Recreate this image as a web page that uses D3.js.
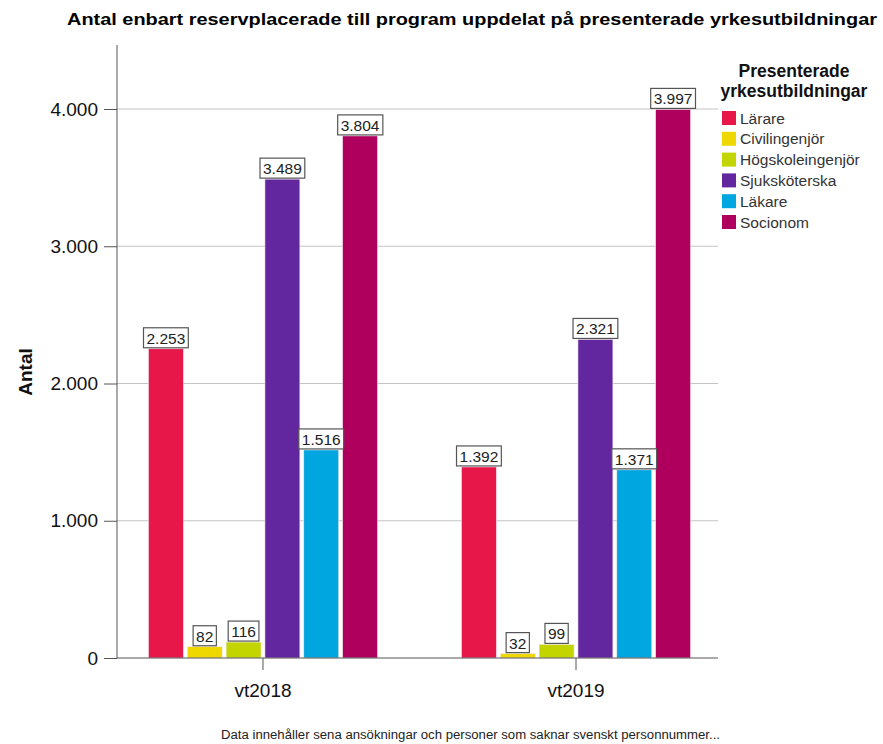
<!DOCTYPE html>
<html>
<head>
<meta charset="utf-8">
<script src="https://cdn.jsdelivr.net/npm/d3@7"></script>
<style>
  body { margin: 0; background: #fff; }
  svg { display: block; font-family: "Liberation Sans", Arial, sans-serif; }
</style>
</head>
<body>
<svg id="chart" width="883" height="744"></svg>
<script>
const periods = ["vt2018", "vt2019"];
const educations = ["Lärare", "Civilingenjör", "Högskoleingenjör", "Sjuksköterska", "Läkare", "Socionom"];
const values2018 = [2253, 82, 116, 3489, 1516, 3804];
const values2019 = [1392, 32, 99, 2321, 1371, 3997];
const colors = ["#e8174a", "#eed800", "#c3d500", "#62269e", "#00a6df", "#b0005e"];
const yTicks = [0, 1000, 2000, 3000, 4000];

const seriesValues = { "vt2018": values2018, "vt2019": values2019 };
const data = [];
periods.forEach(p => educations.forEach((e, i) => data.push({ period: p, edu: e, value: seriesValues[p][i] })));

const svg = d3.select("#chart");
const fmt = v => d3.format(",")(v).replace(/,/g, ".");

const plot = { left: 117, right: 718, top: 45, bottom: 658 };

const y = d3.scaleLinear().domain([0, 4000]).range([plot.bottom, 109]);
const x0 = d3.scaleBand().domain(periods).range([plot.left + 2, plot.right + 2])
  .paddingInner(0.268).paddingOuter(0.094);
const x1 = d3.scaleBand().domain(educations).range([0, x0.bandwidth()]).paddingInner(0.1);
const color = d3.scaleOrdinal().domain(educations).range(colors);

// gridlines
svg.append("g").selectAll("line").data(yTicks.filter(d => d > 0)).join("line")
  .attr("x1", plot.left).attr("x2", plot.right)
  .attr("y1", d => y(d)).attr("y2", d => y(d))
  .attr("stroke", "#c4c4c4").attr("stroke-width", 1);

// y axis
const yAxis = svg.append("g").attr("transform", `translate(${plot.left},0)`)
  .call(d3.axisLeft(y).tickValues(yTicks).tickFormat(fmt).tickSize(13).tickPadding(6));
yAxis.select(".domain").remove();
yAxis.selectAll(".tick line").attr("stroke", "#555");
yAxis.selectAll(".tick text").attr("font-size", 19).attr("fill", "#111")
  .attr("font-family", "'Liberation Sans', Arial, sans-serif");
svg.append("line").attr("x1", plot.left).attr("x2", plot.left)
  .attr("y1", plot.top).attr("y2", plot.bottom).attr("stroke", "#555");

// bars
const groups = svg.append("g").selectAll("g").data(periods).join("g")
  .attr("transform", d => `translate(${x0(d)},0)`);
groups.selectAll("rect").data(p => data.filter(d => d.period === p)).join("rect")
  .attr("x", d => x1(d.edu)).attr("width", x1.bandwidth())
  .attr("y", d => y(d.value)).attr("height", d => y(0) - y(d.value))
  .attr("fill", d => color(d.edu))
  .attr("stroke", "#f4e8f0").attr("stroke-width", 0.6);

// x axis
const xAxis = svg.append("g").attr("transform", `translate(0,${plot.bottom})`)
  .call(d3.axisBottom(x0).tickSize(12).tickPadding(14));
xAxis.select(".domain").remove();
xAxis.selectAll(".tick line").attr("stroke", "#555");
xAxis.selectAll(".tick text").attr("font-size", 19).attr("fill", "#111")
  .attr("font-family", "'Liberation Sans', Arial, sans-serif");
svg.append("line").attr("x1", plot.left).attr("x2", plot.right)
  .attr("y1", plot.bottom).attr("y2", plot.bottom).attr("stroke", "#555");

// value labels
groups.each(function(p) {
  const g = d3.select(this);
  data.filter(d => d.period === p).forEach(d => {
    const cx = x1(d.edu) + x1.bandwidth() / 2;
    const top = y(d.value);
    const lbl = g.append("g");
    const t = lbl.append("text").attr("x", cx).attr("y", top - 5)
      .attr("text-anchor", "middle").attr("font-size", 15.5).attr("fill", "#222")
      .text(fmt(d.value));
    const bb = t.node().getBBox();
    lbl.insert("rect", "text")
      .attr("x", bb.x - 3).attr("y", top - 21).attr("width", bb.width + 6).attr("height", 20)
      .attr("fill", "#fff").attr("stroke", "#555").attr("stroke-width", 1.2);
  });
});

// title
svg.append("text").attr("x", 472).attr("y", 25).attr("text-anchor", "middle")
  .attr("font-size", 17).attr("font-weight", "bold").attr("fill", "#000")
  .attr("textLength", 810).attr("lengthAdjust", "spacingAndGlyphs")
  .text("Antal enbart reservplacerade till program uppdelat på presenterade yrkesutbildningar");

// y title
svg.append("text").attr("transform", "translate(32,372) rotate(-90)")
  .attr("text-anchor", "middle").attr("font-size", 19).attr("font-weight", "bold")
  .attr("fill", "#111").text("Antal");

// legend
const legend = svg.append("g");
legend.append("text").attr("x", 794).attr("y", 77).attr("text-anchor", "middle")
  .attr("font-size", 17.5).attr("font-weight", "bold").attr("fill", "#111").text("Presenterade");
legend.append("text").attr("x", 794).attr("y", 97).attr("text-anchor", "middle")
  .attr("font-size", 17.5).attr("font-weight", "bold").attr("fill", "#111").text("yrkesutbildningar");
const items = legend.selectAll("g.item").data(educations).join("g").attr("class", "item")
  .attr("transform", (d, i) => `translate(722,${111 + i * 20.8})`);
items.append("rect").attr("width", 14).attr("height", 14).attr("fill", d => color(d));
items.append("text").attr("x", 18).attr("y", 12.5).attr("font-size", 15.5).attr("fill", "#333").text(d => d);

// footnote
svg.append("text").attr("x", 221).attr("y", 739).attr("font-size", 12).attr("fill", "#222")
  .attr("textLength", 499).attr("lengthAdjust", "spacingAndGlyphs")
  .text("Data innehåller sena ansökningar och personer som saknar svenskt personnummer...");
</script>
</body>
</html>
